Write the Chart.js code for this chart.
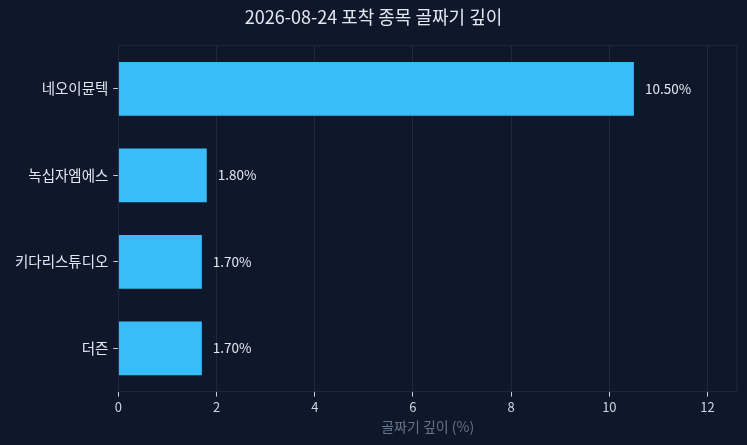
<!DOCTYPE html>
<html lang="ko">
<head>
    <meta charset="UTF-8">
    <script src="https://cdn.jsdelivr.net/npm/chart.js@4.4.0/dist/chart.umd.min.js"></script>
    <title>골짜기 깊이</title>
    <style>
        html, body { margin: 0; padding: 0; background: #0f172a; }
        #wrap { width: 747px; height: 445px; }
    </style>
</head>
<body>
    <div id="wrap"><canvas id="chart"></canvas></div>
    <script>
        const stocks = ['네오이뮨텍', '녹십자엠에스', '키다리스튜디오', '더즌'];
        const depths = [10.5, 1.8, 1.7, 1.7];
        const xTicks = [0, 2, 4, 6, 8, 10, 12];

        const font = '"Noto Sans CJK KR", "Noto Sans", sans-serif';

        // box around the plot area
        const frame = {
            id: 'frame',
            beforeDatasetsDraw(chart) {
                const { ctx, chartArea: a } = chart;
                ctx.save();
                ctx.strokeStyle = '#1e293b';
                ctx.lineWidth = 1;
                ctx.strokeRect(a.left, a.top, a.right - a.left, a.bottom - a.top);
                ctx.restore();
            }
        };

        // value labels at bar ends
        const valueLabels = {
            id: 'valueLabels',
            afterDatasetsDraw(chart) {
                const { ctx } = chart;
                const meta = chart.getDatasetMeta(0);
                ctx.save();
                ctx.fillStyle = '#e2e8f0';
                ctx.font = '13.5px ' + font;
                ctx.textBaseline = 'middle';
                meta.data.forEach((bar, i) => {
                    ctx.fillText(depths[i].toFixed(2) + '%', bar.x + 11, bar.y);
                });
                ctx.restore();
            }
        };

        new Chart(document.getElementById('chart'), {
            type: 'bar',
            data: {
                labels: stocks,
                datasets: [{
                    data: depths,
                    backgroundColor: '#38bdf8',
                    borderWidth: 0,
                    barPercentage: 0.62,
                    categoryPercentage: 1
                }]
            },
            options: {
                indexAxis: 'y',
                responsive: true,
                maintainAspectRatio: false,
                animation: false,
                layout: { padding: { left: 10, right: 10, top: 0, bottom: 6 } },
                plugins: {
                    legend: { display: false },
                    tooltip: { enabled: false },
                    title: {
                        display: true,
                        text: '2026-08-24 포착 종목 골짜기 깊이',
                        color: '#e2e8f0',
                        font: { family: font, size: 18, weight: 'normal' },
                        padding: { top: 6, bottom: 18 }
                    }
                },
                scales: {
                    x: {
                        min: 0,
                        max: 12.6,
                        afterBuildTicks(axis) {
                            axis.ticks = xTicks.map(v => ({ value: v }));
                        },
                        grid: {
                            color: '#1e293b',
                            tickColor: '#cbd5e1',
                            tickLength: 5
                        },
                        border: { color: '#1e293b' },
                        ticks: {
                            color: '#cbd5e1',
                            font: { family: font, size: 13 },
                            padding: 3
                        },
                        title: {
                            display: true,
                            text: '골짜기 깊이 (%)',
                            color: '#64748b',
                            font: { family: font, size: 14 },
                            padding: { top: 0 }
                        }
                    },
                    y: {
                        grid: {
                            offset: false,
                            drawOnChartArea: false,
                            tickColor: '#cbd5e1',
                            tickLength: 5
                        },
                        border: { color: '#1e293b' },
                        ticks: {
                            color: '#e2e8f0',
                            font: { family: font, size: 14.5 },
                            padding: 5
                        }
                    }
                }
            },
            plugins: [frame, valueLabels]
        });
    </script>
</body>
</html>
